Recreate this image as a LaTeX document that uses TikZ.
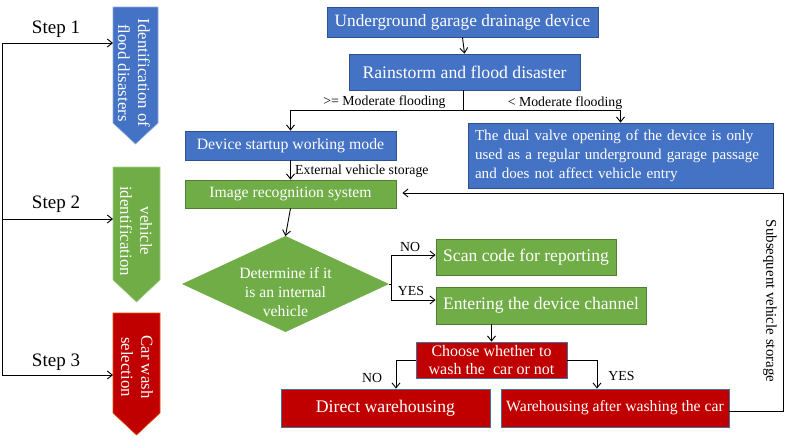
\documentclass[tikz,border=0pt]{standalone}
\usepackage{fontspec}
\setmainfont{Liberation Serif}
\usetikzlibrary{arrows.meta,calc}
\definecolor{cblue}{HTML}{4472C4}
\definecolor{cgreen}{HTML}{70AD47}
\definecolor{cred}{HTML}{C00000}
\definecolor{bblue}{HTML}{2F528F}
\definecolor{bgreen}{HTML}{507E32}
\definecolor{bred}{HTML}{41719C}
\newcommand{\fs}[1]{\fontsize{#1}{#1}\selectfont}
\begin{document}
\begin{tikzpicture}[x=1pt,y=-1pt,
  box/.style={draw, line width=0.8pt, text=white, inner sep=0pt, align=center},
  bluebox/.style={box, fill=cblue, draw=bblue},
  greenbox/.style={box, fill=cgreen, draw=bgreen},
  redbox/.style={box, fill=cred, draw=bred},
  conn/.style={-{Straight Barb[length=5pt,width=8pt]}, line width=0.9pt},
  plain/.style={line width=0.9pt},
  lbl/.style={inner sep=0pt, font=\fs{13.8}},
  steplbl/.style={inner sep=0pt, font=\fs{19}},
  arrtext/.style={inner sep=0pt, text=white, align=center, rotate=-90, font=\fontsize{16.8}{20}\selectfont}
]
\useasboundingbox (0,0) rectangle (789,440);

% left step arrows
\fill[cblue, draw=cblue!60!white, line width=0.6pt] (113,7) -- (158,7) -- (158,123) -- (135.5,144) -- (113,123) -- cycle;
\fill[cgreen, draw=cgreen!60!white, line width=0.6pt] (113,167) -- (160,167) -- (160,280) -- (136.5,302) -- (113,280) -- cycle;
\fill[cred, draw=orange!60!cred, line width=0.6pt] (113,313) -- (160,313) -- (160,413) -- (136.5,435) -- (113,413) -- cycle;
\node[arrtext] (a1) at (134,73) {Identification of\\flood disasters};
\node[arrtext] (a2) at (136,231) {vehicle\\identification};
\node[arrtext] (a3) at (137,367) {Car wash\\selection};

\coordinate (s1) at (113,43);
\coordinate (s2) at (113,219);
\coordinate (s3) at (113,375);
\coordinate (l1) at (2,43);
\coordinate (l2) at (2,219);
\coordinate (l3) at (2,375);
\draw[plain] (l1) -- (l3);
\draw[conn] (l1) -- (s1);
\draw[conn] (l2) -- (s2);
\draw[conn] (l3) -- (s3);
\node[steplbl] (t1) at (56,29) {Step 1};
\node[steplbl] (t2) at (56,204) {Step 2};
\node[steplbl] (t3) at (56,362) {Step 3};

% main flow
\node[bluebox, minimum width=271, minimum height=30, font=\fs{17.3}] (top) at (462.5,22) {Underground garage drainage device};
\node[bluebox, minimum width=231, minimum height=36, font=\fs{17.7}] (rain) at (464.5,72) {Rainstorm and flood disaster};
\node[bluebox, minimum width=211, minimum height=29, font=\fs{15.8}] (dev) at (290.5,145.5) {Device startup working mode};
\node[greenbox, minimum width=211, minimum height=28, font=\fs{15.7}] (img) at (290.5,194) {Image recognition system};
\node[bluebox, minimum height=65, inner xsep=7pt, text width=291, align=left, font=\fontsize{15.1}{19}\selectfont] (dual) at (620.5,155.5) {The dual valve opening of the device is only\\used as a regular underground garage passage\\and does not affect vehicle entry};

\draw[conn] (top.south) -- (rain.north);
\coordinate (split) at (463,110);
\draw[plain] (rain.south -| split) -- (split);
\draw[conn] (split) -| (dev.north);
\draw[conn] (split) -| (dual.north);
\node[lbl] (ge) at (384.5,102) {>= Moderate flooding};
\node[lbl] (lt) at (565,103) {< Moderate flooding};

\draw[conn] (dev.south) -- (img.north);
\node[lbl, anchor=west] (ext) at (295,171) {External vehicle storage};

% decision
\coordinate (dT) at (285.5,236);
\coordinate (dR) at (389,284);
\coordinate (dB) at (285.5,332);
\coordinate (dL) at (182,284);
\fill[cgreen] (dT) -- (dR) -- (dB) -- (dL) -- cycle;
\node[inner sep=0pt, text=white, align=center, font=\fontsize{15.7}{19}\selectfont] (dec) at (285.5,292) {Determine if it\\is an internal\\vehicle};
\draw[conn] (img.south) -- (dT);

\node[greenbox, minimum width=180, minimum height=36, font=\fs{17.6}] (scan) at (526,257) {Scan code for reporting};
\node[greenbox, minimum width=210, minimum height=37, font=\fs{17.6}] (enter) at (541,305.5) {Entering the device channel};
\coordinate (vx) at (391,284);
\draw[plain] (dR) -- (vx);
\draw[conn] (vx) |- ($(scan.west)+(0,-2)$);
\draw[conn] (vx) |- ($(enter.west)+(0,-5.5)$);
\node[lbl] (no1) at (410,247) {NO};
\node[lbl] (yes1) at (411,291) {YES};

\node[redbox, minimum width=151, minimum height=36, font=\fontsize{16}{18}\selectfont] (choose) at (491.5,360) {Choose whether to\\wash the~ car or not};
\draw[conn] (choose.north |- enter.south) -- (choose.north);

\node[redbox, minimum width=209, minimum height=38, font=\fs{17.7}] (direct) at (385.5,408) {Direct warehousing};
\node[redbox, minimum width=228, minimum height=38, font=\fs{15.7}] (wash) at (615,408) {Warehousing after washing the car};

\coordinate (nl) at (396,0);
\coordinate (nr) at (597,0);
\draw[conn] (choose.west) -- (choose.west -| nl) -- (nl |- direct.north);
\draw[conn] (choose.east) -- (choose.east -| nr) -- (nr |- wash.north);
\node[lbl] (no2) at (372,378) {NO};
\node[lbl] (yes2) at (621.5,376) {YES};

% feedback
\coordinate (fb1) at (783,411);
\coordinate (fb2) at (783,193);
\draw[conn] (wash.east |- fb1) -- (fb1) -- (fb2) -- ($(img.east |- fb2)+(6,0)$);
\node[lbl, rotate=-90, font=\fs{14.9}] (sub) at (770,301) {Subsequent vehicle storage};
\end{tikzpicture}
\end{document}
